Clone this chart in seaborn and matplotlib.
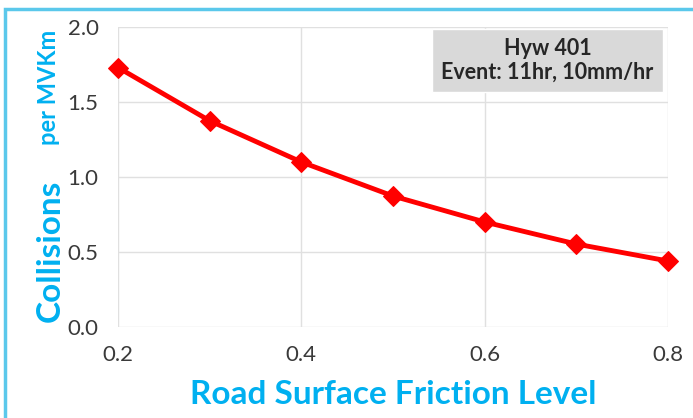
import matplotlib
matplotlib.use("Agg")
import matplotlib.pyplot as plt
import matplotlib.patches as patches
import seaborn as sns
import pandas as pd

friction = [0.2, 0.3, 0.4, 0.5, 0.6, 0.7, 0.8]
collisions = [1.73, 1.375, 1.10, 0.873, 0.70, 0.553, 0.44]
x_ticks = [0.2, 0.4, 0.6, 0.8]
y_ticks = [0.0, 0.5, 1.0, 1.5, 2.0]

blue = "#00B0F0"
df = pd.DataFrame({"friction": friction, "collisions": collisions})

sns.set_style("white")
plt.rcParams["font.family"] = ["Lato", "DejaVu Sans"]

fig = plt.figure(figsize=(6.93, 4.18), dpi=100)
ax = fig.add_axes([118 / 693, 1 - 327 / 418, 550 / 693, 300 / 418])

sns.lineplot(data=df, x="friction", y="collisions", ax=ax, color="#FF0000",
             linewidth=3.5, marker="D", markersize=10, markeredgecolor="#FF0000",
             clip_on=False, zorder=5)

ax.set_xlim(0.2, 0.8)
ax.set_ylim(0, 2.0)
ax.set_xticks(x_ticks)
ax.set_yticks(y_ticks)
ax.set_xticklabels([f"{v:.1f}" for v in x_ticks])
ax.set_yticklabels([f"{v:.1f}" for v in y_ticks])
ax.grid(True, color="#E0E0E0", linewidth=1)
for s in ax.spines.values():
    s.set_visible(False)
ax.tick_params(axis="both", labelsize=16, colors="#3A3A3A")
ax.tick_params(axis="x", length=0, pad=13)
ax.tick_params(axis="y", length=6, color="#E0E0E0", pad=8)
ax.set_xlabel("")
ax.set_ylabel("")

fig.text(393 / 693, 1 - 394 / 418, "Road Surface Friction Level", color=blue,
         fontsize=24, fontweight="bold", ha="center", va="center")
fig.text(50 / 693, 1 - 322 / 418, "Collisions", color=blue, fontsize=24,
         fontweight="bold", rotation=90, ha="center", va="bottom")
fig.text(48 / 693, 1 - 145 / 418, "per MVKm", color=blue, fontsize=17,
         fontweight="bold", rotation=90, ha="center", va="bottom")

ax.text(0.781, 0.888, "Hyw 401\nEvent: 11hr, 10mm/hr", transform=ax.transAxes,
        ha="center", va="center", fontsize=15.5, fontweight="bold", color="#262626",
        linespacing=1.15,
        bbox=dict(boxstyle="square,pad=0.42", facecolor="#D9D9D9", edgecolor="white"))

fig.patches.append(patches.Rectangle((4.5 / 693, -0.2), 1.2, 1 - 9 / 418 + 0.2,
                                     transform=fig.transFigure, fill=False,
                                     edgecolor="#5BC8EB", linewidth=2.5))

fig.savefig("out.png", dpi=100)
